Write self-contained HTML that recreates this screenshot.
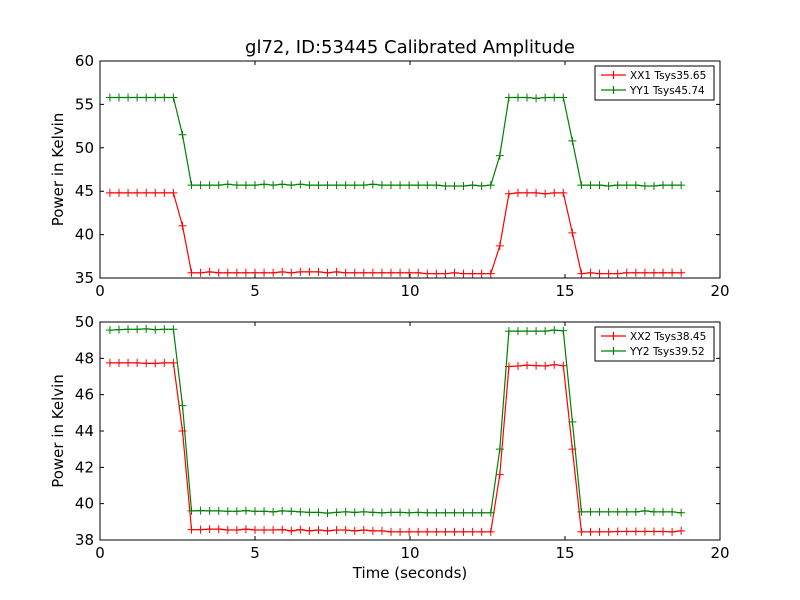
<!DOCTYPE html>
<html><head><meta charset="utf-8"><style>
body{margin:0;background:#fff;}
svg{display:block;font-family:"DejaVu Sans","Liberation Sans",sans-serif;}
</style></head><body>
<svg id="chart" width="800" height="600" viewBox="0 0 800 600">
<rect width="800" height="600" fill="#fff"/>
<text x="410" y="53" font-size="18" text-anchor="middle">gl72, ID:53445 Calibrated Amplitude</text>
<text x="410" y="578" font-size="15" text-anchor="middle">Time (seconds)</text>
<g id="top"></g>
<g id="bot"></g>
</svg>
<script>
const xTicks=[0,5,10,15,20];
const topTicks=[35,40,45,50,55,60];
const botTicks=[38,40,42,44,46,48,50];
const tStart=0.32, tStep=0.2925;
const xx1=[44.8,44.8,44.8,44.8,44.8,44.8,44.8,44.8,41.0,35.6,35.6,35.7,35.6,35.6,35.6,35.6,35.6,35.6,35.6,35.7,35.6,35.7,35.7,35.7,35.6,35.7,35.6,35.6,35.6,35.6,35.6,35.6,35.6,35.6,35.6,35.5,35.5,35.5,35.6,35.5,35.5,35.5,35.5,38.7,44.7,44.8,44.8,44.8,44.7,44.8,44.8,40.2,35.5,35.6,35.5,35.5,35.5,35.6,35.6,35.6,35.6,35.6,35.6,35.6];
const yy1=[55.8,55.8,55.8,55.8,55.8,55.8,55.8,55.8,51.5,45.7,45.7,45.7,45.7,45.8,45.7,45.7,45.7,45.8,45.7,45.8,45.7,45.8,45.7,45.7,45.7,45.7,45.7,45.7,45.7,45.8,45.7,45.7,45.7,45.7,45.7,45.7,45.7,45.6,45.6,45.6,45.7,45.6,45.7,49.1,55.8,55.8,55.8,55.7,55.8,55.8,55.8,50.8,45.7,45.7,45.7,45.6,45.7,45.7,45.7,45.6,45.6,45.7,45.7,45.7];
const xx2=[47.75,47.75,47.75,47.75,47.72,47.72,47.75,47.75,44.0,38.57,38.57,38.6,38.6,38.55,38.55,38.6,38.55,38.55,38.55,38.57,38.5,38.57,38.5,38.55,38.5,38.55,38.55,38.5,38.55,38.5,38.5,38.45,38.45,38.45,38.45,38.45,38.45,38.45,38.45,38.45,38.45,38.45,38.45,41.6,47.55,47.58,47.62,47.6,47.58,47.65,47.6,43.0,38.45,38.45,38.45,38.45,38.47,38.47,38.47,38.47,38.47,38.47,38.45,38.5];
const yy2=[49.55,49.58,49.6,49.6,49.62,49.58,49.6,49.6,45.4,39.6,39.62,39.6,39.6,39.58,39.58,39.62,39.58,39.58,39.55,39.6,39.58,39.55,39.52,39.52,39.48,39.52,39.55,39.52,39.55,39.52,39.5,39.52,39.52,39.5,39.52,39.5,39.5,39.5,39.5,39.5,39.5,39.5,39.5,43.0,49.5,49.5,49.5,49.5,49.5,49.55,49.52,44.5,39.55,39.55,39.55,39.55,39.55,39.55,39.55,39.6,39.55,39.55,39.55,39.5];
const labels1=["XX1 Tsys35.65","YY1 Tsys45.74"];
const labels2=["XX2 Tsys38.45","YY2 Tsys39.52"];
const NS="http://www.w3.org/2000/svg";
function mk(p,tag,at){const e=document.createElementNS(NS,tag);for(const k in at)e.setAttribute(k,at[k]);p.appendChild(e);return e;}
function panel(g,y0,y1,ymin,ymax,yt,series,colors,labels,pre){
  const X0=100,X1=720;
  const sx=v=>X0+(v-0)/(20-0)*(X1-X0);
  const sy=v=>y1-(v-ymin)/(ymax-ymin)*(y1-y0);
  series.forEach((s,si)=>{
    let d="";
    s.forEach((v,i)=>{const x=sx(tStart+i*tStep),y=sy(v);d+=(i?"L":"M")+x.toFixed(1)+" "+y.toFixed(1);});
    const pl=mk(g,"path",{d:d,fill:"none",stroke:colors[si],"stroke-width":1.2});
    
    
    let m="";
    s.forEach((v,i)=>{const x=sx(tStart+i*tStep),y=sy(v);m+="M"+(x-4)+" "+y+"h8M"+x+" "+(y-4)+"v8";});
    const mp=mk(g,"path",{d:m,stroke:colors[si],"stroke-width":1});
    
    
  });
  const fr=mk(g,"rect",{x:X0,y:y0,width:X1-X0,height:y1-y0,fill:"none",stroke:"#000","stroke-width":1});
  
  
  xTicks.forEach(t=>{const x=sx(t);
    mk(g,"path",{d:`M${x} ${y1}v-4M${x} ${y0}v4`,stroke:"#000"});
    const tx=mk(g,"text",{x:x,y:y1+18,"font-size":15,"text-anchor":"middle"});tx.textContent=t;
    
    
  });
  yt.forEach(t=>{const y=sy(t);
    mk(g,"path",{d:`M${X0} ${y}h4M${X1} ${y}h-4`,stroke:"#000"});
    const tx=mk(g,"text",{x:X0-6,y:y+5,"font-size":15,"text-anchor":"end"});tx.textContent=t;
    
    
  });
  const yl=mk(g,"text",{x:0,y:0,"font-size":15,"text-anchor":"middle",transform:`translate(63 ${(y0+y1)/2}) rotate(-90)`});
  yl.textContent="Power in Kelvin";
  
  
  const lg=mk(g,"g",{});
  
  
  mk(lg,"rect",{x:595,y:y0+5,width:119,height:34,fill:"#fff",stroke:"#000","stroke-width":1});
  labels.forEach((l,i)=>{const y=y0+14+i*15;
    const e=mk(lg,"path",{d:`M601 ${y}h25M613.5 ${y-4}v8`,stroke:colors[i],"stroke-width":1.2});
    
    
    const tx=mk(lg,"text",{x:630,y:y+4,"font-size":10.5});tx.textContent=l;
    
    
  });
}
panel(document.getElementById("top"),61,278,35,60,topTicks,[xx1,yy1],["#ff0000","#008000"],labels1,"top");
panel(document.getElementById("bot"),322,540,38,50,botTicks,[xx2,yy2],["#ff0000","#008000"],labels2,"bottom");
</script>
</body></html>
